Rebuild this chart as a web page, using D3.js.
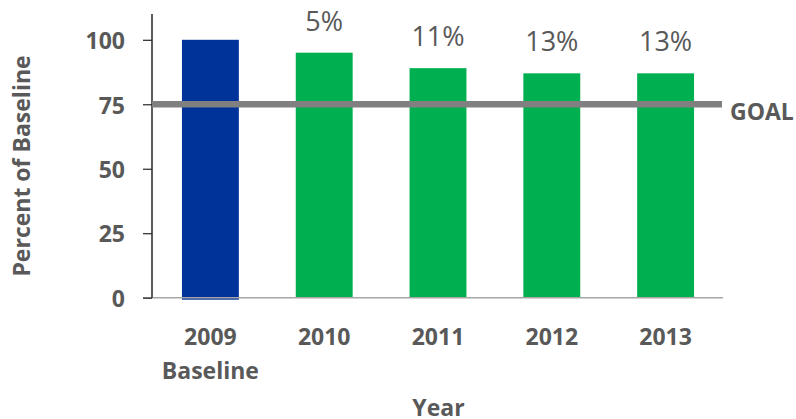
<!DOCTYPE html>
<html>
<head>
<meta charset="utf-8">
<script src="https://cdn.jsdelivr.net/npm/d3@7"></script>
<style>
  html, body { margin: 0; padding: 0; background: #fff; }
  svg { display: block; }
  text { font-family: "Open Sans", "Liberation Sans", sans-serif; fill: #595959; }
</style>
</head>
<body>
<svg id="chart" width="796" height="419"></svg>
<script>
// Percent of 2009 baseline, by year
const years = ["2009", "2010", "2011", "2012", "2013"];
const subLabels = ["Baseline", "", "", "", ""];
const values = [100, 95, 89, 87, 87];
const reductionLabels = ["", "5%", "11%", "13%", "13%"];
const yTicks = [0, 25, 50, 75, 100];
const goalValue = 75;

const svg = d3.select("#chart");
const plotLeft = 152, plotRight = 722, plotTop = 14, plotBottom = 297.7;

const x = d3.scaleBand().domain(years).range([plotLeft + 1.5, plotRight + 0.5])
  .paddingInner(0.5).paddingOuter(0.25);
const y = d3.scaleLinear().domain([0, 110]).range([plotBottom, plotTop]);

// bars
svg.append("g").selectAll("rect").data(years).join("rect")
  .attr("x", d => x(d))
  .attr("width", x.bandwidth())
  .attr("y", (d, i) => y(values[i]))
  .attr("height", (d, i) => y(0) - y(values[i]) + (i === 0 ? 2 : 0))
  .attr("fill", (d, i) => i === 0 ? "#003399" : "#00B050");

// x baseline
svg.append("line")
  .attr("x1", plotLeft - 9).attr("x2", plotRight + 1)
  .attr("y1", y(0)).attr("y2", y(0))
  .attr("stroke", "#a6a6a6").attr("stroke-width", 1.5);

// y axis
const yAxis = svg.append("g")
  .attr("transform", `translate(${plotLeft},0)`)
  .call(d3.axisLeft(y).tickValues(yTicks).tickSize(9).tickPadding(18));
yAxis.select(".domain").attr("d", `M0,${plotTop}V${plotBottom}`).attr("stroke", "#262626").attr("stroke-width", 1.5);
yAxis.selectAll(".tick line").attr("stroke", "#262626").attr("stroke-width", 1.2);
yAxis.selectAll(".tick text")
  .attr("font-family", "'Open Sans', sans-serif")
  .attr("font-size", 23).attr("font-weight", 700)
  .attr("fill", "#595959").attr("dy", "0.38em");

// goal line
svg.append("line")
  .attr("x1", plotLeft).attr("x2", plotRight)
  .attr("y1", y(goalValue)).attr("y2", y(goalValue))
  .attr("stroke", "#808080").attr("stroke-width", 6.5);
svg.append("text")
  .attr("x", 730).attr("y", y(goalValue) + 16)
  .attr("font-size", 23).attr("font-weight", 700)
  .text("GOAL");

// reduction labels above bars
svg.append("g").selectAll("text").data(years).join("text")
  .attr("x", d => x(d) + x.bandwidth() / 2)
  .attr("y", (d, i) => y(values[i]) - 22)
  .attr("text-anchor", "middle")
  .attr("font-size", 27)
  .text((d, i) => reductionLabels[i]);

// category labels
const cat = svg.append("g").selectAll("g").data(years).join("g")
  .attr("transform", d => `translate(${x(d) + x.bandwidth() / 2},0)`);
cat.append("text").attr("y", 345).attr("text-anchor", "middle")
  .attr("font-size", 23).attr("font-weight", 700).text(d => d);
cat.append("text").attr("y", 379).attr("text-anchor", "middle")
  .attr("font-size", 23).attr("font-weight", 700).text((d, i) => subLabels[i]);

// axis titles
svg.append("text")
  .attr("x", 438.5).attr("y", 416)
  .attr("text-anchor", "middle")
  .attr("font-size", 23).attr("font-weight", 700)
  .text("Year");
svg.append("text")
  .attr("transform", `translate(30,${166}) rotate(-90)`)
  .attr("text-anchor", "middle")
  .attr("font-size", 23).attr("font-weight", 700)
  .text("Percent of Baseline");
</script>
</body>
</html>
